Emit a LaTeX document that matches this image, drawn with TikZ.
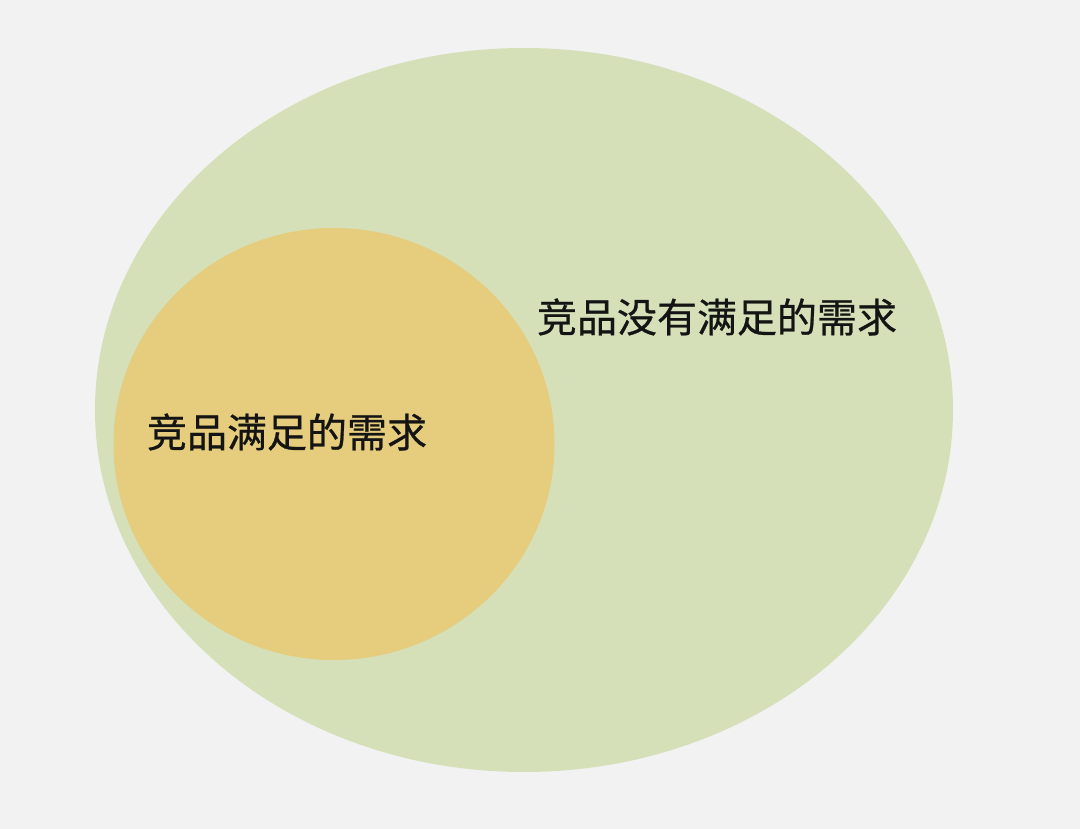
\documentclass[tikz,border=0pt]{standalone}
\usepackage{fontspec}
\newfontfamily\cjk[FakeBold=0.6]{Noto Sans CJK SC}
\usetikzlibrary{shapes.geometric}
\definecolor{bgGray}{RGB}{242,242,242}
\definecolor{setGreen}{RGB}{213,224,185}
\definecolor{setOrange}{RGB}{229,205,125}
\definecolor{lblInk}{RGB}{20,20,20}
\tikzset{
  need_set/.style = {ellipse, draw=none, inner sep=0pt},% set of needs
  need_lbl/.style = {inner sep=0pt, text=lblInk,
    font=\cjk\fontsize{40pt}{48pt}\selectfont}% label of a set
}
\begin{document}
\begin{tikzpicture}[x=1pt,y=-1pt]
  \fill[bgGray] (0,0) rectangle (1080,829);
  \useasboundingbox (0,0) rectangle (1080,829);
  \node [need_set, fill=setGreen, minimum width=858pt, minimum height=724pt] (all) at (524,410) {};
  \node [need_set, fill=setOrange, minimum width=441pt, minimum height=432pt] (met) at (334,444) {};
  \node [need_lbl] (metlbl) at (287,432) {竞品满足的需求};
  \node [need_lbl] (unmetlbl) at (717,317) {竞品没有满足的需求};
\end{tikzpicture}
\end{document}
